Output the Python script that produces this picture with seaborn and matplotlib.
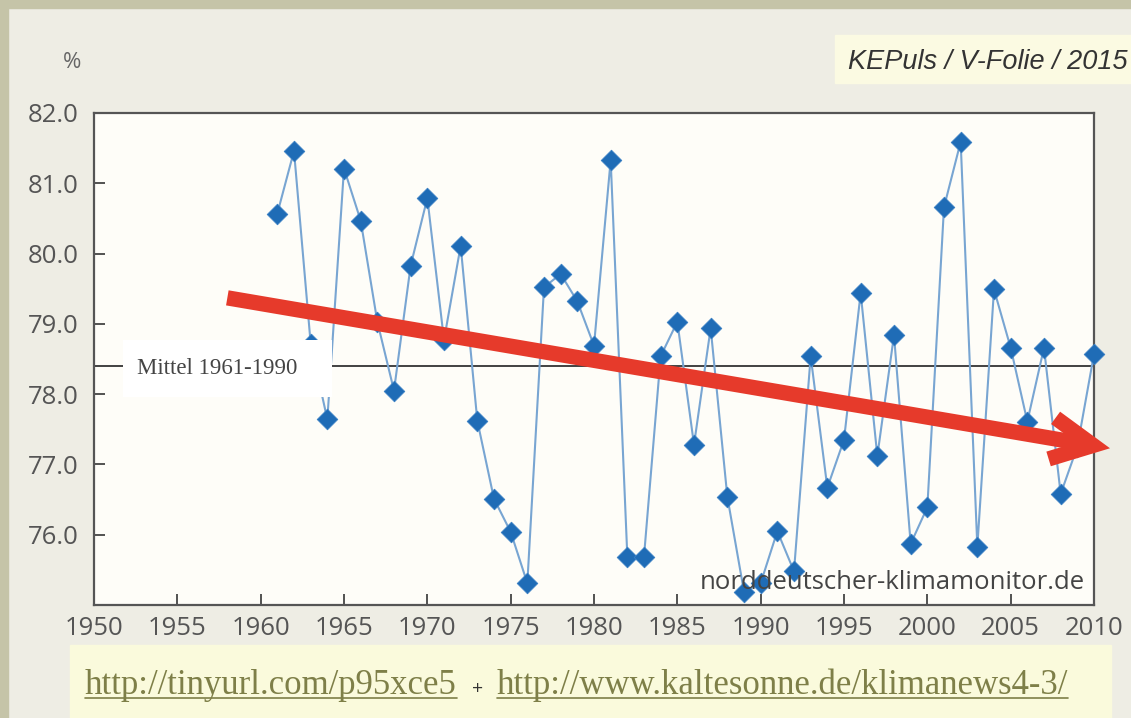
import matplotlib
matplotlib.use("Agg")
import matplotlib.pyplot as plt
from matplotlib.patches import Rectangle
from matplotlib.lines import Line2D
import seaborn as sns

# data
years = list(range(1961, 2011))
humidity = [80.57, 81.46, 78.72, 77.64, 81.21, 80.47, 79.03, 78.05, 79.83, 80.79,
            78.77, 80.11, 77.62, 76.51, 76.04, 75.31, 79.52, 79.71, 79.32, 78.69,
            81.33, 75.69, 75.69, 78.54, 79.03, 77.28, 78.94, 76.54, 75.19, 75.31,
            76.05, 75.48, 78.54, 76.67, 77.35, 79.44, 77.12, 78.84, 75.87, 76.39,
            80.66, 81.59, 75.83, 79.49, 78.66, 77.61, 78.66, 76.58, 77.25, 78.57]
mean_1961_1990 = 78.4
x_ticks = list(range(1950, 2011, 5))
y_ticks = [76.0, 77.0, 78.0, 79.0, 80.0, 81.0, 82.0]
trend_start = (1958.0, 79.37)
trend_end = (2010.96, 77.23)

sns.set_style("ticks")
plt.rcParams['font.family'] = ['Open Sans', 'DejaVu Sans']

W, H = 1131, 718
fig = plt.figure(figsize=(W / 100, H / 100), dpi=100)
fig.patch.set_facecolor('#eeede4')

# frame bands (left and top)
fig.patches.append(Rectangle((0, 0), 8 / W, 1, transform=fig.transFigure,
                             color='#c5c4a8', zorder=0))
fig.patches.append(Rectangle((0, 1 - 8 / H), 1, 8 / H, transform=fig.transFigure,
                             color='#c5c4a8', zorder=0))

ax = fig.add_axes([94 / W, 1 - 605 / H, 1000 / W, 492 / H])
ax.set_facecolor('#fefdf8')

# series
sns.lineplot(x=years, y=humidity, ax=ax, color='#78a5d2', lw=1.5, zorder=3)
sns.scatterplot(x=years, y=humidity, ax=ax, marker='D', s=110, color='#1f6cb6',
                edgecolor='#3a80c4', linewidth=0.6, zorder=3.5, clip_on=False)

# long-term mean line with label box
ax.axhline(mean_1961_1990, color='#333333', lw=1.3, zorder=2.5)
ax.add_patch(Rectangle((0.029, 0.423), 0.209, 0.116, transform=ax.transAxes,
                       facecolor='white', edgecolor='none', zorder=4))
ax.text(0.043, 0.481, 'Mittel 1961-1990', transform=ax.transAxes,
        family='Liberation Serif', fontsize=16.5, color='#444444',
        va='center', ha='left', zorder=5)

# trend arrow
ax.annotate('', xy=trend_end, xytext=trend_start, annotation_clip=False,
            arrowprops=dict(arrowstyle='->,head_length=3.0,head_width=1.5',
                            color='#e63a2b', lw=11, shrinkA=0, shrinkB=0,
                            mutation_scale=10, capstyle='butt',
                            joinstyle='miter'),
            zorder=6)

ax.text(0.991, 0.045, 'norddeutscher-klimamonitor.de', transform=ax.transAxes,
        fontsize=18.5, color='#444444', ha='right', va='center', zorder=5)

ax.set_xlim(1950, 2010)
ax.set_ylim(75, 82)
ax.set_xticks(x_ticks)
ax.set_yticks(y_ticks)
ax.set_yticklabels([f'{v:.1f}' for v in y_ticks])
ax.set_xlabel('')
ax.set_ylabel('')
ax.tick_params(direction='in', length=8, width=1.3, color='#444444',
               labelsize=18.5, labelcolor='#555555')
ax.tick_params(axis='y', pad=11)
ax.tick_params(axis='x', pad=8)
for side in ['left', 'right', 'top', 'bottom']:
    ax.spines[side].set_visible(True)
    ax.spines[side].set_color('#555555')
    ax.spines[side].set_linewidth(1.6)

fig.text(72 / W, 1 - 63 / H, '%', fontsize=16, color='#666666',
         ha='center', va='center')

# source tag top right
fig.patches.append(Rectangle((835 / W, 1 - 83 / H), (W - 835) / W, 48 / H,
                             transform=fig.transFigure, color='#fbfae2', zorder=1))
fig.text(1128 / W, 1 - 62 / H, 'KEPuls / V-Folie / 2015', family='Liberation Sans',
         style='italic', fontsize=19.5, color='#333333', ha='right', va='center')

# link box at the bottom
fig.patches.append(Rectangle((70 / W, 0), (1111 - 70) / W, (H - 645) / H,
                             transform=fig.transFigure, color='#fafadc', zorder=1))
link_color = '#7e7f48'
base_y = (H - 694) / H
t1 = fig.text(85 / W, base_y, 'http://tinyurl.com/p95xce5', family='Liberation Serif',
              fontsize=25, color=link_color, ha='left', va='baseline')
fig.text(478 / W, base_y, '+', fontsize=14, color='#333333', ha='center', va='baseline')
t2 = fig.text(497 / W, base_y, 'http://www.kaltesonne.de/klimanews4-3/',
              family='Liberation Serif', fontsize=25, color=link_color,
              ha='left', va='baseline')

fig.canvas.draw()
renderer = fig.canvas.get_renderer()
for t in (t1, t2):
    bb = t.get_window_extent(renderer)
    fig.lines.append(Line2D([bb.x0 / W, bb.x1 / W], [(H - 698) / H] * 2,
                            transform=fig.transFigure, color=link_color, lw=1.2))

fig.savefig('out.png', dpi=100, facecolor=fig.get_facecolor())
